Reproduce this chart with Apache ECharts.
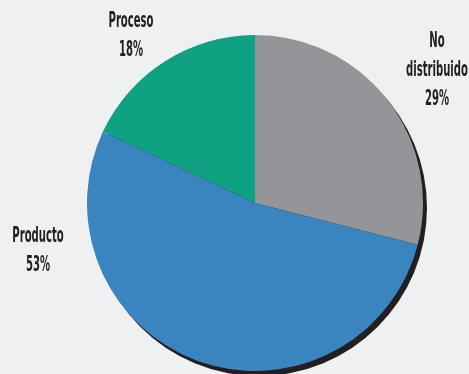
<!DOCTYPE html>
<html>
<head>
<meta charset="utf-8">
<script src="https://cdn.jsdelivr.net/npm/echarts@6/dist/echarts.min.js"></script>
<style>
  html, body { margin: 0; padding: 0; background: #eff0f2; }
  #chart { width: 469px; height: 374px; }
</style>
</head>
<body>
<div id="chart"></div>
<script>
// Slice names, shares (percent) and fills, clockwise from 12 o'clock
const categories = ['No distribuido', 'Producto', 'Proceso'];
const values = [29, 53, 18];
const colors = ['#939598', '#3a85c0', '#0ea283'];

// Label lines for each slice
const labelLines = [['No', 'distribuido'], ['Producto'], ['Proceso']];

const chart = echarts.init(document.getElementById('chart'), null, { renderer: 'canvas' });

const center = [255, 203];
const radius = 168;
const textColor = '#231f20';
const labelFont = 'bold 14px "DejaVu Sans Condensed", "Liberation Sans Narrow", sans-serif';

// Label anchor points (x centre, y of first line) and line spacing
const labelAnchors = [[437, 42], [38, 237], [131, 22]];
const lineGap = 29;

const graphics = [];
categories.forEach((name, i) => {
  const lines = labelLines[i].concat([values[i] + '%']);
  lines.forEach((t, j) => {
    graphics.push({
      type: 'text',
      x: labelAnchors[i][0],
      y: labelAnchors[i][1] + j * lineGap,
      scaleX: 0.8,
      scaleY: 1.45,
      silent: true,
      style: {
        text: t,
        x: 0,
        y: 0,
        align: 'center',
        verticalAlign: 'middle',
        font: labelFont,
        fill: textColor
      }
    });
  });
});

chart.setOption({
  backgroundColor: '#eff0f2',
  animation: false,
  graphic: graphics,
  series: [
    {
      // hard drop shadow behind the pie
      type: 'pie',
      silent: true,
      center: [center[0] + 4, center[1] + 5],
      radius: radius,
      label: { show: false },
      labelLine: { show: false },
      itemStyle: { color: '#231f20', borderWidth: 0 },
      data: [{ name: 'sombra', value: 1 }]
    },
    {
      type: 'pie',
      center: center,
      radius: radius,
      startAngle: 90,
      clockwise: true,
      label: { show: false },
      labelLine: { show: false },
      itemStyle: { borderWidth: 0 },
      data: categories.map((name, i) => ({
        name: name,
        value: values[i],
        itemStyle: { color: colors[i] }
      }))
    }
  ]
});
</script>
</body>
</html>
